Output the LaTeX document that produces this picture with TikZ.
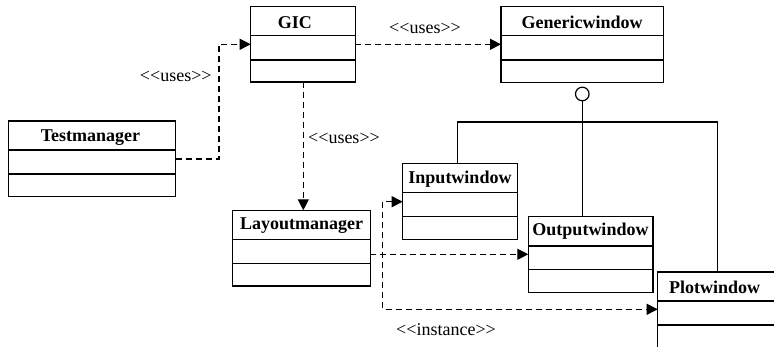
\documentclass[tikz,border=0pt]{standalone}
\usepackage{fontspec}
\setmainfont{Liberation Serif}[Ligatures=NoCommon]
\usetikzlibrary{arrows.meta}
\tikzset{
  clsbox/.style={draw, line width=1.2pt, rectangle, inner sep=0pt, outer sep=0pt, anchor=north west},
  clstitle/.style={font=\fontsize{18}{20}\selectfont\bfseries, inner sep=0pt, anchor=base},
  lbl/.style={font=\fontsize{18}{20}\selectfont, inner sep=0pt, anchor=base},
  dep/.style={line width=1.2pt, dash pattern=on 6pt off 4pt, -{Triangle[length=11pt,width=11pt]}},
  gen/.style={line width=1.2pt},
}
\newcommand\divline[3]{\draw[gen] (#1.west |- 0,#2) -- (#1.east |- 0,#2);\draw[gen] (#1.west |- 0,#3) -- (#1.east |- 0,#3);}
\newcommand\lt{\char"003C\relax}
\newcommand\gt{\char"003E\relax}
\begin{document}
\begin{tikzpicture}[x=1pt,y=-1pt]
\useasboundingbox (0,0) rectangle (774,347);
\clip (0,0) rectangle (774,347);
% classes
\node[clsbox, minimum width=104.6pt, minimum height=75.7pt] (gic) at (250.7,6.3) {};
\node[clstitle] (gic-t) at (294.8,28.3) {GIC};
\divline{gic}{35.3}{60}
\node[clsbox, minimum width=162.3pt, minimum height=76pt] (gw) at (501,6.3) {};
\node[clstitle] (gw-t) at (582.2,28.3) {Genericwindow};
\divline{gw}{35.3}{60}
\node[clsbox, minimum width=167.4pt, minimum height=75.7pt] (tm) at (8.3,121) {};
\node[clstitle] (tm-t) at (90.5,141.7) {Testmanager};
\divline{tm}{150}{174}
\node[clsbox, minimum width=137.6pt, minimum height=75.7pt] (lm) at (232.7,210.3) {};
\node[clstitle] (lm-t) at (301.7,230) {Layoutmanager};
\divline{lm}{239.3}{263.7}
\node[clsbox, minimum width=115pt, minimum height=76pt] (iw) at (402.7,163.3) {};
\node[clstitle] (iw-t) at (460,184) {Inputwindow};
\divline{iw}{192.3}{216.7}
\node[clsbox, minimum width=124.7pt, minimum height=76pt] (ow) at (528.3,216.7) {};
\node[clstitle] (ow-t) at (590.5,236) {Outputwindow};
\divline{ow}{246}{269.7}
\node[clsbox, minimum width=130pt, minimum height=77pt] (pw) at (657.7,272) {};
\node[clstitle] (pw-t) at (714.7,293.3) {Plotwindow};
\divline{pw}{301}{325}
% dependencies
\draw[dep] (tm.east |- 0,159) -| (219,44.3) -- (gic.west |- 0,44.3);
\draw[dep] (gic.east |- 0,44.3) -- (gw.west |- 0,44.3);
\draw[dep] (gic.south -| 303.3,0) -- (lm.north -| 303.3,0);
\draw[dep] (lm.east |- 0,254.3) -- (ow.west |- 0,254.3);
\draw[dep, {Triangle[length=11pt,width=11pt]}-{Triangle[length=11pt,width=11pt]}] (iw.west |- 0,201.7) -| (382.7,309.3) -- (pw.west |- 0,309.3);
% labels
\node[lbl] (l1) at (175.8,81.7) {\lt\lt uses\gt\gt};
\node[lbl] (l2) at (344,143.3) {\lt\lt uses\gt\gt};
\node[lbl] (l3) at (425,33.3) {\lt\lt uses\gt\gt};
\node[lbl] (l4) at (446,336) {\lt\lt instance\gt\gt};
% interface realisation
\node[circle, draw, line width=1.2pt, minimum size=13.6pt, inner sep=0pt] (ci) at (582.3,94) {};
\coordinate (bl) at (457.3,122);
\coordinate (br) at (717.5,122);
\draw[gen] (iw.north -| bl) -- (bl) -- (br) -- (pw.north -| br);
\draw[gen] (ci.south) -- (ci.south |- ow.north);
\end{tikzpicture}
\end{document}
